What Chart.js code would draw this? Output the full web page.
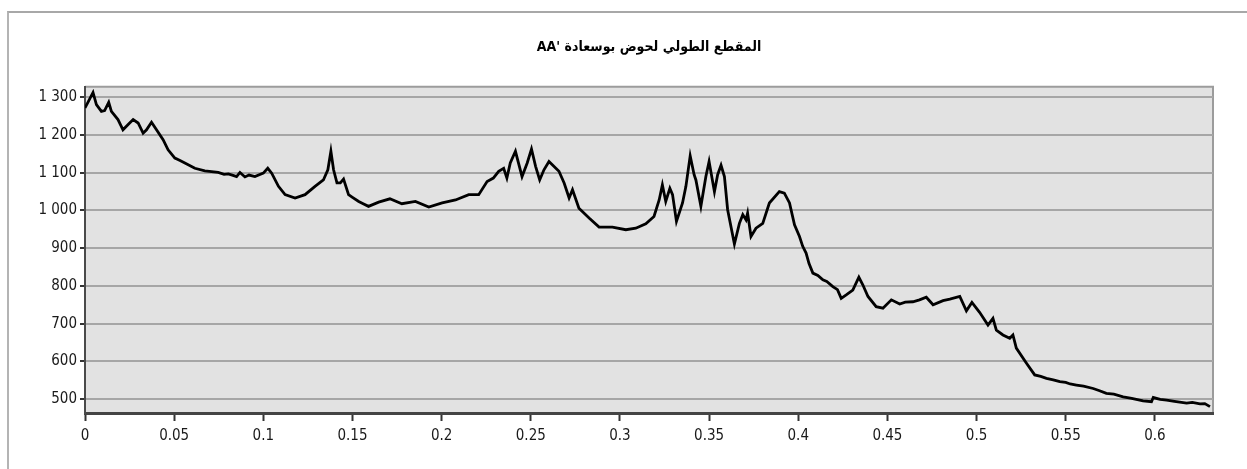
<!DOCTYPE html>
<html>
<head>
<meta charset="utf-8">
<script src="https://cdn.jsdelivr.net/npm/chart.js@4"></script>
<style>
  html, body { margin: 0; padding: 0; background: #fff; overflow: hidden; }
  #frame { position: absolute; left: 7px; top: 11px; width: 1300px; height: 520px;
           border-top: 2px solid #a8a8a8; border-left: 2px solid #b4b4b4; }
  #wrap { position: absolute; left: 0; top: 0; width: 1247px; height: 469px; }
</style>
</head>
<body>
<div id="frame"></div>
<div id="wrap"><canvas id="profileChart"></canvas></div>
<script>
// Profile data (distance, elevation)
const distX = [
  0, 0.002, 0.0045, 0.0064, 0.0092, 0.011, 0.0133, 0.0148, 0.0185, 0.0213,
  0.0242, 0.027, 0.0298, 0.0326, 0.0345, 0.0373, 0.0401, 0.0438, 0.0466, 0.0504,
  0.053, 0.056, 0.0616, 0.0672, 0.0747, 0.078, 0.0804, 0.083, 0.085, 0.0869, 0.0897,
  0.092, 0.0953, 0.1, 0.1025, 0.1047, 0.1085, 0.1122, 0.1178, 0.1234, 0.129,
  0.1337, 0.1362, 0.1379, 0.1394, 0.1413, 0.1432, 0.145, 0.1478, 0.150, 0.1535, 0.156, 0.159,
  0.1647, 0.171, 0.1777, 0.1853, 0.1928, 0.2003, 0.2078, 0.2152, 0.2208, 0.2255,
  0.229, 0.232, 0.2348, 0.2366, 0.2385, 0.2414, 0.2451, 0.248, 0.2504, 0.2527,
  0.255, 0.2574, 0.2602, 0.2658, 0.2687, 0.2715, 0.2734, 0.277, 0.2827, 0.2883,
  0.2958, 0.3033, 0.3089, 0.3145, 0.3191, 0.322, 0.3238, 0.3257, 0.328, 0.3295,
  0.3317, 0.3351, 0.337, 0.3394, 0.3416, 0.3426, 0.3454, 0.3482, 0.35, 0.353,
  0.3548, 0.3567, 0.3586, 0.3604, 0.3642, 0.367, 0.3689, 0.3707, 0.3716, 0.3735,
  0.3763, 0.3801, 0.3838, 0.3894, 0.3922, 0.3951, 0.3979, 0.4007, 0.4025, 0.4044, 0.406, 0.4082,
  0.411, 0.4138, 0.416, 0.4194, 0.422, 0.4241, 0.4269, 0.4306, 0.434, 0.4362, 0.4391, 0.4437, 0.4475,
  0.4522, 0.4569, 0.46, 0.4643, 0.468, 0.4718, 0.4756, 0.4812, 0.485, 0.4906, 0.4943, 0.4974, 0.5017,
  0.5064, 0.5092, 0.5111, 0.5148, 0.5186, 0.5204, 0.5223, 0.528, 0.5326, 0.536, 0.5392,
  0.543, 0.5467, 0.55, 0.5525, 0.556, 0.56, 0.5654, 0.569, 0.5728, 0.577, 0.5822, 0.587,
  0.5934, 0.5981, 0.5991, 0.603, 0.6066, 0.611, 0.6178, 0.621, 0.6253, 0.628, 0.6309
];
const elevY = [
  1272, 1290, 1313, 1281, 1263, 1265, 1287, 1263, 1241, 1214,
  1228, 1241, 1232, 1205, 1214, 1234, 1214, 1188, 1161, 1139,
  1133, 1126, 1112, 1105, 1101, 1096, 1097, 1093, 1090, 1101, 1089,
  1094, 1090, 1099, 1112, 1099, 1064, 1042, 1033, 1042, 1064,
  1081, 1108, 1157, 1108, 1073, 1073, 1083, 1042, 1035, 1024, 1018, 1011,
  1022, 1031, 1018, 1024, 1009, 1020, 1028, 1042, 1042, 1077,
  1086, 1104, 1112, 1086, 1126, 1157, 1090, 1126, 1163, 1117,
  1081, 1108, 1130, 1104, 1073, 1033, 1055, 1006, 980, 956,
  956, 949, 953, 965, 984, 1028, 1068, 1024, 1059, 1042,
  971, 1020, 1064, 1145, 1095, 1081, 1011, 1090, 1130, 1050,
  1095, 1120, 1090, 1002, 911, 966, 989, 975, 993, 931,
  953, 966, 1020, 1050, 1046, 1020, 962, 931, 905, 887, 860, 834,
  828, 816, 812, 798, 790, 767, 776, 789, 823, 803, 772, 745, 741,
  763, 752, 757, 758, 763, 770, 750, 761, 765, 772, 734, 756, 730,
  696, 714, 683, 670, 661, 670, 635, 595, 564, 560, 555,
  551, 546, 544, 540, 537, 534, 528, 522, 515, 513, 506, 502,
  495, 493, 504, 499, 497, 494, 489, 491, 487, 488, 480
];

const xTicks = [0, 0.05, 0.1, 0.15, 0.2, 0.25, 0.3, 0.35, 0.4, 0.45, 0.5, 0.55, 0.6];
const xTickLabels = ['0', '0.05', '0.1', '0.15', '0.2', '0.25', '0.3', '0.35', '0.4', '0.45', '0.5', '0.55', '0.6'];
const yTicks = [500, 600, 700, 800, 900, 1000, 1100, 1200, 1300];
const yTickLabels = ['500', '600', '700', '800', '900', '1 000', '1 100', '1 200', '1 300'];

const chartTitle = "AA' المقطع الطولي لحوض بوسعادة";

const labelFont = { family: "'Liberation Sans Narrow', 'DejaVu Sans Condensed', sans-serif", size: 15 };

// plot background + light top/right border
const plotFrame = {
  id: 'plotFrame',
  beforeDraw(chart) {
    const { ctx, chartArea: a } = chart;
    ctx.save();
    ctx.fillStyle = '#e2e2e2';
    ctx.fillRect(a.left, a.top, a.right - a.left, a.bottom - a.top);
    ctx.strokeStyle = '#9c9c9c';
    ctx.lineWidth = 2;
    ctx.beginPath();
    ctx.moveTo(a.left, a.top);
    ctx.lineTo(a.right, a.top);
    ctx.lineTo(a.right, a.bottom);
    ctx.stroke();
    ctx.restore();
  }
};

new Chart(document.getElementById('profileChart'), {
  type: 'line',
  data: {
    datasets: [{
      data: distX.map((x, i) => ({ x: x, y: elevY[i] })),
      borderColor: '#000',
      borderWidth: 2.8,
      pointRadius: 0,
      tension: 0,
      fill: false
    }]
  },
  options: {
    responsive: true,
    maintainAspectRatio: false,
    animation: false,
    layout: { padding: { left: 0, right: 34, top: 0, bottom: 0 } },
    plugins: {
      legend: { display: false },
      tooltip: { enabled: false },
      title: {
        display: true,
        fullSize: false,
        text: chartTitle,
        color: '#000',
        font: { family: "'DejaVu Sans Condensed', 'DejaVu Sans', sans-serif", size: 14, weight: 'bold' },
        padding: { top: 39, bottom: 31 }
      }
    },
    scales: {
      x: {
        type: 'linear',
        min: 0,
        max: 0.6326,
        afterBuildTicks: s => { s.ticks = xTicks.map(v => ({ value: v })); },
        afterFit: s => { s.height = 56; },
        grid: { drawOnChartArea: false, drawTicks: true, tickLength: 8, tickColor: '#333', tickWidth: 2 },
        border: { color: '#444', width: 3 },
        ticks: {
          autoSkip: false, maxRotation: 0, padding: 6,
          color: '#1a1a1a', font: labelFont,
          callback: (v, i) => xTickLabels[i]
        }
      },
      y: {
        min: 463,
        max: 1328,
        afterBuildTicks: s => { s.ticks = yTicks.map(v => ({ value: v })); },
        afterFit: s => { s.width = 85; },
        grid: { color: '#a6a6a6', lineWidth: 2, tickLength: 5, tickColor: '#333', tickWidth: 2 },
        border: { color: '#4a4a4a', width: 2 },
        ticks: {
          autoSkip: false, padding: 3,
          color: '#1a1a1a', font: labelFont,
          callback: (v, i) => yTickLabels[i]
        }
      }
    }
  },
  plugins: [plotFrame]
});
</script>
</body>
</html>
